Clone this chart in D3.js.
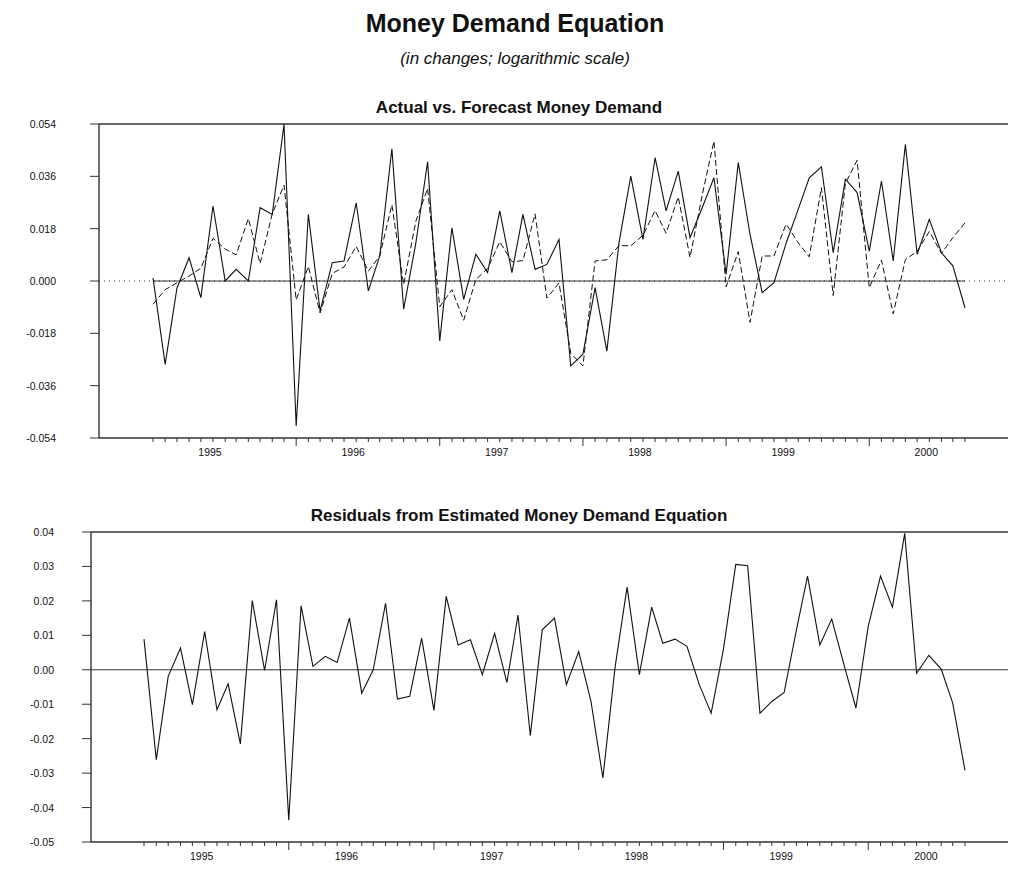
<!DOCTYPE html>
<html><head><meta charset="utf-8">
<script src="https://cdn.jsdelivr.net/npm/d3@7"></script>
<style>
body{margin:0;background:#fff}
svg{display:block}
text{font-family:"Liberation Sans",Arial,Helvetica,sans-serif;fill:#111}
</style>
</head><body>
<svg id="chart" width="1011" height="869"></svg>
<script>
// ---- data (monthly, Aug 1994 - Apr 2000) ----
const startYear = 1994, startMonthIndex = 7; // August 1994
const actual = [0.0011,-0.0287,-0.0025,0.0080,-0.0057,0.0258,0.0000,0.0040,0.0000,0.0252,
  0.0229,0.0539,-0.0499,0.0229,-0.0103,0.0063,0.0069,0.0269,-0.0034,0.0086,
  0.0455,-0.0097,0.0130,0.0410,-0.0206,0.0183,-0.0063,0.0092,0.0029,0.0241,
  0.0029,0.0229,0.0040,0.0057,0.0143,-0.0292,-0.0252,-0.0023,-0.0241,0.0132,
  0.0361,0.0143,0.0424,0.0241,0.0378,0.0149,0.0252,0.0355,0.0023,0.0407,
  0.0160,-0.0040,-0.0006,0.0130,0.0247,0.0355,0.0393,0.0097,0.0350,0.0304,
  0.0103,0.0344,0.0069,0.0470,0.0092,0.0212,0.0097,0.0052,-0.0092];
const forecast = [-0.0080,-0.0030,-0.0006,0.0017,0.0044,0.0147,0.0110,0.0090,0.0215,0.0060,
  0.0231,0.0330,-0.0065,0.0050,-0.0110,0.0026,0.0048,0.0119,0.0034,0.0086,
  0.0262,-0.0012,0.0205,0.0318,-0.0088,-0.0030,-0.0135,0.0005,0.0043,0.0135,
  0.0066,0.0070,0.0231,-0.0059,-0.0007,-0.0249,-0.0292,0.0069,0.0073,0.0122,
  0.0121,0.0157,0.0242,0.0164,0.0289,0.0081,0.0295,0.0481,-0.0020,0.0101,
  -0.0142,0.0086,0.0086,0.0196,0.0131,0.0083,0.0321,-0.0050,0.0336,0.0415,
  -0.0023,0.0072,-0.0113,0.0074,0.0102,0.0170,0.0095,0.0149,0.0200];
const residual = [0.0089,-0.0261,-0.0019,0.0063,-0.0101,0.0111,-0.0116,-0.0041,-0.0215,0.0201,
  -0.0002,0.0203,-0.0437,0.0186,0.0010,0.0039,0.0021,0.0150,-0.0068,0.0000,
  0.0193,-0.0085,-0.0077,0.0092,-0.0118,0.0213,0.0072,0.0087,-0.0014,0.0106,
  -0.0037,0.0159,-0.0191,0.0116,0.0150,-0.0043,0.0053,-0.0092,-0.0314,0.0010,
  0.0240,-0.0014,0.0182,0.0077,0.0089,0.0068,-0.0043,-0.0126,0.0060,0.0306,
  0.0302,-0.0126,-0.0092,-0.0066,0.0116,0.0272,0.0072,0.0147,0.0014,-0.0111,
  0.0126,0.0272,0.0182,0.0396,-0.0010,0.0042,0.0002,-0.0097,-0.0292];
const topTicks = [0.054,0.036,0.018,0,-0.018,-0.036,-0.054];
const topTickLabels = ["0.054","0.036","0.018","0.000","-0.018","-0.036","-0.054"];
const botTicks = [0.04,0.03,0.02,0.01,0,-0.01,-0.02,-0.03,-0.04,-0.05];
const botTickLabels = ["0.04","0.03","0.02","0.01","0.00","-0.01","-0.02","-0.03","-0.04","-0.05"];
const yearLabels = ["1995","1996","1997","1998","1999","2000"];
const mainTitle = "Money Demand Equation";
const subTitle = "(in changes; logarithmic scale)";
const topTitle = "Actual vs. Forecast Money Demand";
const botTitle = "Residuals from Estimated Money Demand Equation";

const dates = actual.map((_, i) => new Date(startYear, startMonthIndex + i, 1));

const svg = d3.select("#chart");

svg.append("text").attr("x", 515).attr("y", 32).attr("text-anchor","middle")
  .attr("font-size", 25).attr("font-weight","bold").text(mainTitle);
svg.append("text").attr("x", 515).attr("y", 64).attr("text-anchor","middle")
  .attr("font-size", 17).attr("font-style","italic").text(subTitle);

function panel(cfg){
  const g = svg.append("g");
  const x = d3.scaleTime().domain([dates[0], dates[dates.length-1]]).range([cfg.x0, cfg.x1]);
  const y = d3.scaleLinear().domain(cfg.domain).range([cfg.bottom, cfg.top]);
  const axisColor = "#333";
  g.append("text").attr("x", 519).attr("y", cfg.top - 11).attr("text-anchor","middle")
    .attr("font-size", 17).attr("font-weight","bold").text(cfg.title);
  g.append("line").attr("x1", cfg.left).attr("x2", cfg.right).attr("y1", cfg.top).attr("y2", cfg.top)
    .attr("stroke", axisColor).attr("stroke-width", 1.4);
  g.append("line").attr("x1", cfg.left).attr("x2", cfg.left).attr("y1", cfg.top).attr("y2", cfg.bottom)
    .attr("stroke", axisColor).attr("stroke-width", 1.4);
  g.append("line").attr("x1", cfg.left).attr("x2", cfg.right).attr("y1", cfg.bottom).attr("y2", cfg.bottom)
    .attr("stroke", axisColor).attr("stroke-width", 1.4);
  cfg.ticks.forEach((t, i) => {
    g.append("line").attr("x1", cfg.left - 9).attr("x2", cfg.left).attr("y1", y(t)).attr("y2", y(t))
      .attr("stroke", axisColor).attr("stroke-width", 1);
    g.append("text").attr("x", cfg.labelX).attr("y", y(t) + 4).attr("text-anchor","end")
      .attr("font-size", 10.5).attr("fill","#222").text(cfg.tickLabels[i]);
  });
  dates.forEach((d, i) => {
    const long = i > 0 && i % 12 === 0;
    g.append("line").attr("x1", x(d)).attr("x2", x(d)).attr("y1", cfg.bottom).attr("y2", cfg.bottom + (long ? 8 : 4))
      .attr("stroke", axisColor).attr("stroke-width", 1);
  });
  yearLabels.forEach(yl => {
    g.append("text").attr("x", x(new Date(+yl, 0, 1)) - 3).attr("y", cfg.bottom + 18).attr("text-anchor","middle")
      .attr("font-size", 10.5).attr("fill","#222").text(yl);
  });
  g.append("line").attr("x1", cfg.left).attr("x2", cfg.right).attr("y1", y(0)).attr("y2", y(0))
    .attr("stroke", "#333").attr("stroke-width", 1).attr("stroke-dasharray", cfg.zeroDots ? "1,4" : null);
  if (cfg.zeroDots) {
    g.append("line").attr("x1", x(dates[0])).attr("x2", x(dates[dates.length-1])).attr("y1", y(0)).attr("y2", y(0))
      .attr("stroke", "#333").attr("stroke-width", 1);
  }
  cfg.series.forEach(s => {
    const line = d3.line().x((v, i) => x(dates[i])).y(v => y(v));
    g.append("path").datum(s.values).attr("d", line).attr("fill","none")
      .attr("stroke", "#111").attr("stroke-width", s.width)
      .attr("stroke-dasharray", s.dash || null).attr("stroke-linejoin","miter");
  });
}

panel({
  left: 99, right: 1008, top: 124, bottom: 438, x0: 153, x1: 965,
  domain: [-0.054, 0.054], ticks: topTicks, tickLabels: topTickLabels, labelX: 56,
  title: topTitle, zeroDots: true,
  series: [
    {values: forecast, width: 1, dash: "6,3"},
    {values: actual, width: 1.1}
  ]
});
panel({
  left: 91, right: 1008, top: 532, bottom: 842, x0: 144, x1: 965,
  domain: [-0.05, 0.04], ticks: botTicks, tickLabels: botTickLabels, labelX: 54,
  title: botTitle, zeroDots: false,
  series: [
    {values: residual, width: 1.1}
  ]
});
</script>
</body></html>
